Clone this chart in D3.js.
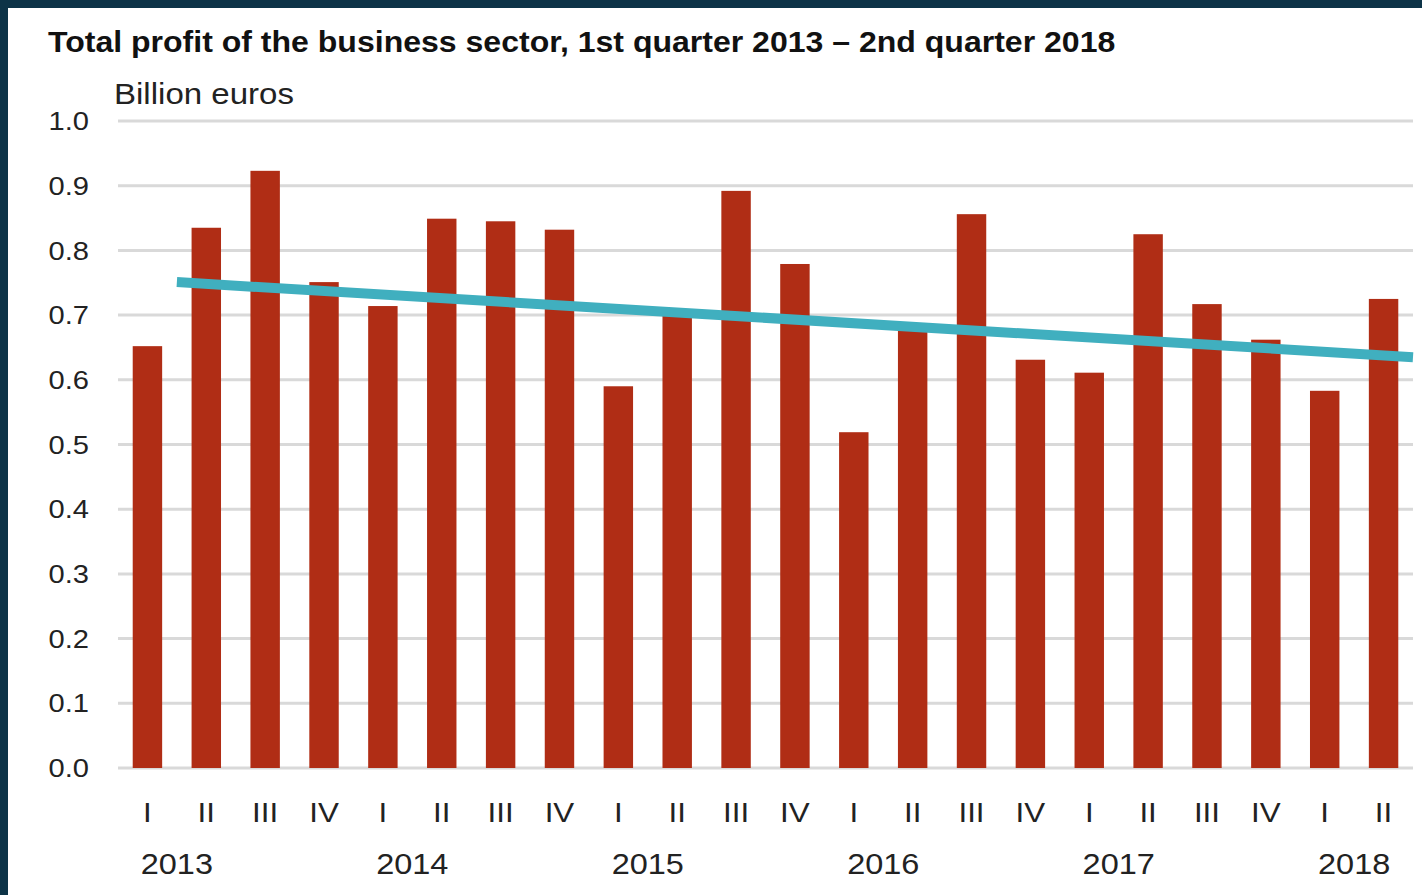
<!DOCTYPE html>
<html>
<head>
<meta charset="utf-8">
<script src="https://cdn.jsdelivr.net/npm/d3@7"></script>
<style>
  body { margin: 0; background: #0d3347; }
  svg { display: block; }
  text { font-family: "Liberation Sans", Arial, sans-serif; fill: #222; }
</style>
</head>
<body>
<svg width="1422" height="895"></svg>
<script>
// quarters, Q1 2013 .. Q2 2018
const quarters = ['I','II','III','IV','I','II','III','IV','I','II','III','IV',
                  'I','II','III','IV','I','II','III','IV','I','II'];
const years = ['2013','2014','2015','2016','2017','2018'];
const profit = [0.652, 0.835, 0.923, 0.751, 0.714, 0.849, 0.845, 0.832,
                0.590, 0.703, 0.892, 0.779, 0.519, 0.685, 0.856, 0.631,
                0.611, 0.825, 0.717, 0.662, 0.583, 0.725];
// linear trend, value at start / end of the line (in quarter positions)
const trendPos = [1, 22];
const trendVal = [0.751, 0.635];
const yTicks = [0, 0.1, 0.2, 0.3, 0.4, 0.5, 0.6, 0.7, 0.8, 0.9, 1.0];

const svg = d3.select('svg');
const sx = 1.12; // the source image is a bit wider than tall, text looks stretched

// white panel inside the dark frame
svg.append('rect')
    .attr('x', 8).attr('y', 8)
    .attr('width', 1422 - 8).attr('height', 895 - 8)
    .attr('fill', '#fff');

const plot = { left: 118, right: 1413, top: 121, bottom: 768 };

const x = d3.scaleBand()
    .domain(d3.range(profit.length))
    .range([plot.left, plot.right])
    .paddingInner(0.5)
    .paddingOuter(0.25);

// continuous position in units of quarters
const xq = d3.scaleLinear()
    .domain([0, profit.length])
    .range([plot.left, plot.right]);

const y = d3.scaleLinear()
    .domain([0, 1])
    .range([plot.bottom, plot.top]);

const at = (px, py) => `translate(${px},${py}) scale(${sx},1)`;

// gridlines
svg.append('g')
    .selectAll('line')
    .data(yTicks)
    .enter().append('line')
    .attr('x1', plot.left).attr('x2', plot.right)
    .attr('y1', d => y(d)).attr('y2', d => y(d))
    .attr('stroke', '#d9d9d9')
    .attr('stroke-width', 3);

// y labels
svg.append('g')
    .selectAll('text')
    .data(yTicks)
    .enter().append('text')
    .attr('transform', d => at(89, y(d)))
    .attr('dy', '0.35em')
    .attr('text-anchor', 'end')
    .style('font-size', '26px')
    .text(d => d3.format('.1f')(d));

// bars
svg.append('g')
    .selectAll('rect')
    .data(profit)
    .enter().append('rect')
    .attr('x', (d, i) => x(i))
    .attr('width', x.bandwidth())
    .attr('y', d => y(d))
    .attr('height', d => y(0) - y(d))
    .attr('fill', '#b02d15');

// trend line
svg.append('line')
    .attr('x1', xq(trendPos[0])).attr('y1', y(trendVal[0]))
    .attr('x2', xq(trendPos[1])).attr('y2', y(trendVal[1]))
    .attr('stroke', '#40afbf')
    .attr('stroke-width', 10);

// quarter labels
svg.append('g')
    .selectAll('text')
    .data(quarters)
    .enter().append('text')
    .attr('transform', (d, i) => at(x(i) + x.bandwidth() / 2, 822))
    .attr('text-anchor', 'middle')
    .style('font-size', '28px')
    .text(d => d);

// year labels, centred between 1st and 2nd quarter of each year
svg.append('g')
    .selectAll('text')
    .data(years)
    .enter().append('text')
    .attr('transform', (d, i) => at(xq(i * 4 + 1), 874))
    .attr('text-anchor', 'middle')
    .style('font-size', '29px')
    .text(d => d);

// title
svg.append('text')
    .attr('transform', at(48, 52))
    .style('font-size', '28.6px')
    .style('font-weight', 'bold')
    .style('fill', '#111')
    .text('Total profit of the business sector, 1st quarter 2013 \u2013 2nd quarter 2018');

svg.append('text')
    .attr('transform', at(114, 104))
    .style('font-size', '29.5px')
    .text('Billion euros');
</script>
</body>
</html>
